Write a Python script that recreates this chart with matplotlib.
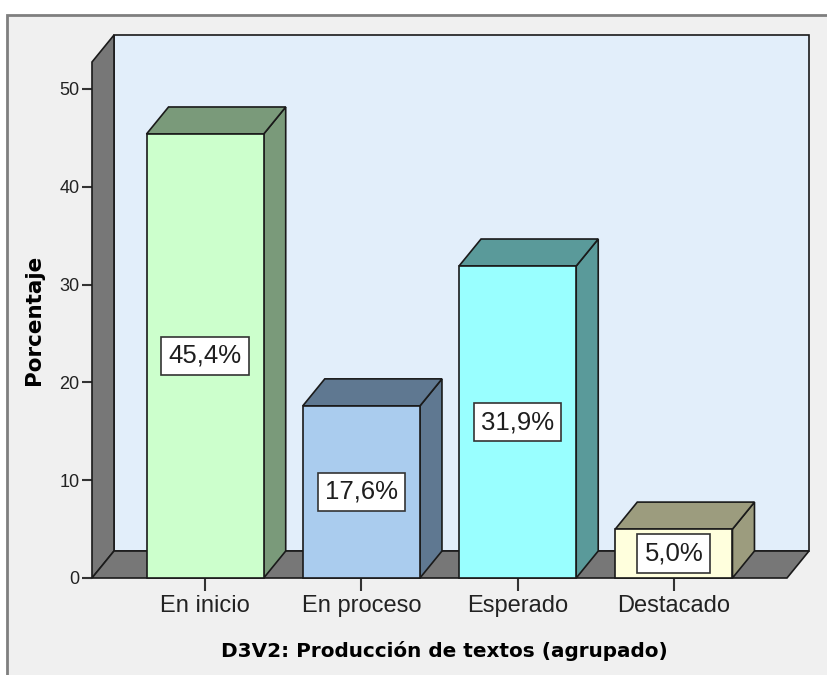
import matplotlib
matplotlib.use("Agg")
import matplotlib.pyplot as plt
from matplotlib.patches import Polygon, Rectangle

categorias = ["En inicio", "En proceso", "Esperado", "Destacado"]
porcentajes = [45.4, 17.6, 31.9, 5.0]
etiquetas = ["45,4%", "17,6%", "31,9%", "5,0%"]
color_frente = ["#CCFFCC", "#AACCEE", "#99FFFF", "#FFFFDD"]
color_lado = ["#7A9A7A", "#5F7891", "#5A9A9A", "#9C9C7E"]
y_ticks = [0, 10, 20, 30, 40, 50]

W, H = 828, 675
fig = plt.figure(figsize=(W / 100, H / 100), dpi=100, facecolor="white")

# marco gris del visor
fig.patches.append(Rectangle((7 / W, -0.05), 1.2, (H - 15) / H + 0.05,
                             transform=fig.transFigure, facecolor="#F0F0F0",
                             edgecolor="#7F7F7F", linewidth=2, zorder=-10))

# ejes = plano frontal
left, right, bottom, top = 92, 787, 578, 62
ax = fig.add_axes([left / W, (H - bottom) / H, (right - left) / W, (bottom - top) / H])
ax.set_facecolor("none")
xmin, xmax = -0.724, len(categorias) - 1 + 0.724
ymax = 52.76
ax.set_xlim(xmin, xmax)
ax.set_ylim(0, ymax)

# profundidad del efecto 3D (en unidades de datos)
dx = 22 / (right - left) * (xmax - xmin)
dy = 27 / (bottom - top) * ymax

kw = dict(edgecolor="#1A1A1A", linewidth=1.2, clip_on=False, joinstyle="miter")

# pared de fondo, pared izquierda y piso
ax.add_patch(Polygon([(xmin + dx, dy), (xmax + dx, dy), (xmax + dx, ymax + dy),
                      (xmin + dx, ymax + dy)], facecolor="#E2EEFA", zorder=1, **kw))
ax.add_patch(Polygon([(xmin, 0), (xmin + dx, dy), (xmin + dx, ymax + dy), (xmin, ymax)],
                     facecolor="#777777", zorder=2, **kw))
ax.add_patch(Polygon([(xmin, 0), (xmax, 0), (xmax + dx, dy), (xmin + dx, dy)],
                     facecolor="#777777", zorder=2, **kw))

ancho = 0.75
for i, (v, cf, cl, et) in enumerate(zip(porcentajes, color_frente, color_lado, etiquetas)):
    x0, x1 = i - ancho / 2, i + ancho / 2
    ax.add_patch(Polygon([(x1, 0), (x1 + dx, dy), (x1 + dx, v + dy), (x1, v)],
                         facecolor=cl, zorder=3, **kw))
    ax.add_patch(Polygon([(x0, v), (x1, v), (x1 + dx, v + dy), (x0 + dx, v + dy)],
                         facecolor=cl, zorder=3, **kw))
    ax.add_patch(Rectangle((x0, 0), ancho, v, facecolor=cf, zorder=4, **kw))
    ax.text(i, v / 2, et, ha="center", va="center", fontsize=18.5, color="#1E1E1E",
            family="Liberation Sans", zorder=5,
            bbox=dict(boxstyle="square,pad=0.28", facecolor="white",
                      edgecolor="#333333", linewidth=1.2))

for s in ax.spines.values():
    s.set_visible(False)

ax.set_yticks(y_ticks)
ax.set_yticklabels([str(t) for t in y_ticks], family="Liberation Sans", fontsize=13,
                   color="#222222")
ax.tick_params(axis="y", length=7, width=1.5, color="#333333", pad=2)
ax.set_xticks(range(len(categorias)))
ax.set_xticklabels(categorias, family="Liberation Sans", fontsize=17, color="#222222")
ax.tick_params(axis="x", length=9, width=1.5, color="#333333", pad=3)

ax.set_ylabel("Porcentaje", fontsize=15.5, fontweight="bold", family="DejaVu Sans",
              labelpad=11)
ax.set_xlabel("D3V2: Producción de textos (agrupado)", fontsize=14.4,
              fontweight="bold", family="DejaVu Sans")
ax.xaxis.set_label_coords(0.507, -0.122)

fig.savefig("out.png", dpi=100, facecolor="white")
